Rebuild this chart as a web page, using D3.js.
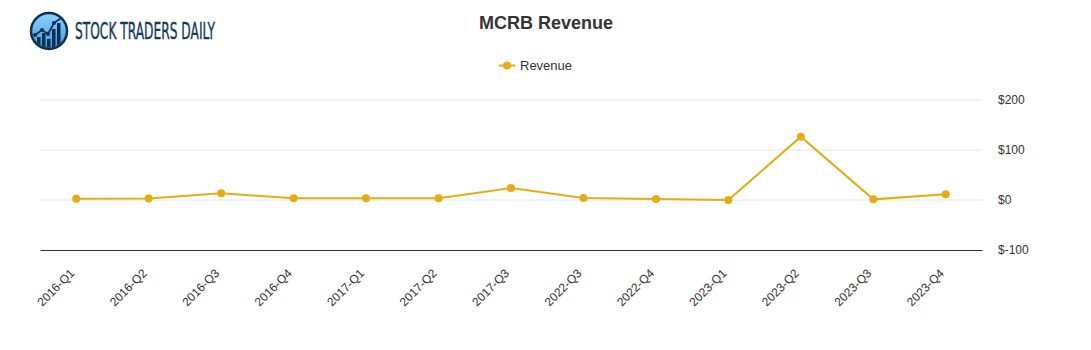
<!DOCTYPE html>
<html><head><meta charset="utf-8">
<script src="https://cdn.jsdelivr.net/npm/d3@7"></script>
<style>body{margin:0;background:#fff;font-family:"Liberation Sans",Arial,sans-serif;}</style>
</head><body><svg id="c" width="1091" height="350"></svg>
<script>
const categories=["2016-Q1","2016-Q2","2016-Q3","2016-Q4","2017-Q1","2017-Q2","2017-Q3","2022-Q3","2022-Q4","2023-Q1","2023-Q2","2023-Q3","2023-Q4"];
const revenue=[2.7,3.2,13.3,3.3,3.4,3.4,24,4,2,0,126.7,1.3,11.3];
const yTicks=[-100,0,100,200];
const svg=d3.select("#c");
const m={l:40,r:982,t:100,b:250};
const x=d3.scaleBand().domain(categories).range([m.l,m.r]);
const y=d3.scaleLinear().domain([-100,200]).range([m.b,m.t]);
const col="#e5ac13";
// grid
svg.append("g").selectAll("line").data(yTicks.filter(d=>d>-100)).join("line")
 .attr("x1",m.l).attr("x2",m.r).attr("y1",d=>y(d)).attr("y2",d=>y(d))
 .attr("stroke","#e6e6e6").attr("stroke-width",1);
// y axis labels
const ya=svg.append("g").attr("transform",`translate(${m.r},0)`).call(d3.axisRight(y).tickValues(yTicks).tickSize(0).tickPadding(16).tickFormat(d=>"$"+d));
ya.select(".domain").remove();
ya.selectAll("text").attr("font-size",12).attr("fill","#333").attr("font-family","Liberation Sans,Arial,sans-serif");
// x axis
const xa=svg.append("g").attr("transform",`translate(0,${m.b})`).call(d3.axisBottom(x).tickSize(0).tickPadding(0));
xa.select(".domain").attr("stroke","#333").attr("stroke-width",1);
xa.selectAll("text").attr("font-size",12).attr("fill","#333").attr("font-family","Liberation Sans,Arial,sans-serif")
 .attr("text-anchor","end").attr("dy",0).attr("transform","translate(-1,24) rotate(-45)");
// line
const line=d3.line().x((d,i)=>x(categories[i])+x.bandwidth()/2).y(d=>y(d));
svg.append("path").datum(revenue).attr("d",line).attr("fill","none").attr("stroke",col).attr("stroke-width",2);
svg.append("g").selectAll("circle").data(revenue).join("circle")
 .attr("cx",(d,i)=>x(categories[i])+x.bandwidth()/2).attr("cy",d=>y(d)).attr("r",4).attr("fill",col);
// title
svg.append("text").attr("x",546).attr("y",29).attr("text-anchor","middle").attr("font-size",18).attr("font-weight","bold").attr("fill","#333").text("MCRB Revenue");
// legend
svg.append("line").attr("x1",499).attr("x2",515).attr("y1",65.5).attr("y2",65.5).attr("stroke",col).attr("stroke-width",2);
svg.append("circle").attr("cx",507).attr("cy",65.5).attr("r",4).attr("fill",col);
svg.append("text").attr("x",520).attr("y",70).attr("font-size",13).attr("fill","#333").text("Revenue");
// logo
const defs=svg.append("defs");
const g=defs.append("linearGradient").attr("id","lg").attr("x1",0).attr("y1",0).attr("x2",0).attr("y2",1);
g.append("stop").attr("offset","0").attr("stop-color","#8fd3ff");
g.append("stop").attr("offset","1").attr("stop-color","#3a9be0");
const lg=svg.append("g");
lg.append("circle").attr("cx",49).attr("cy",31).attr("r",18).attr("fill","url(#lg)").attr("stroke","#0e2f4d").attr("stroke-width",2.5);
defs.append("clipPath").attr("id","cp").append("circle").attr("cx",49).attr("cy",31).attr("r",16.5);
const bars=[[37,37],[42,33],[47,39],[52,29],[57,23]];
const bg=lg.append("g").attr("clip-path","url(#cp)");
bars.forEach(b=>bg.append("rect").attr("x",b[0]).attr("y",b[1]).attr("width",3.5).attr("height",50-b[1]).attr("fill","#0e2f4d"));
bg.append("polyline").attr("points","35,35 42,30 48,34 54,23 61,18").attr("fill","none").attr("stroke","#0e2f4d").attr("stroke-width",1.8);
[[35,35],[42,30],[48,34],[54,23]].forEach(p=>bg.append("circle").attr("cx",p[0]).attr("cy",p[1]).attr("r",2).attr("fill","#0e2f4d"));
svg.append("text").attr("x",75).attr("y",38.5).attr("font-size",23).attr("font-family","Liberation Sans Narrow,DejaVu Sans Condensed,sans-serif").attr("fill","#143a5a").attr("stroke","#143a5a").attr("stroke-width",0.4).attr("textLength",140).attr("lengthAdjust","spacingAndGlyphs").text("STOCK TRADERS DAILY");
</script></body></html>
